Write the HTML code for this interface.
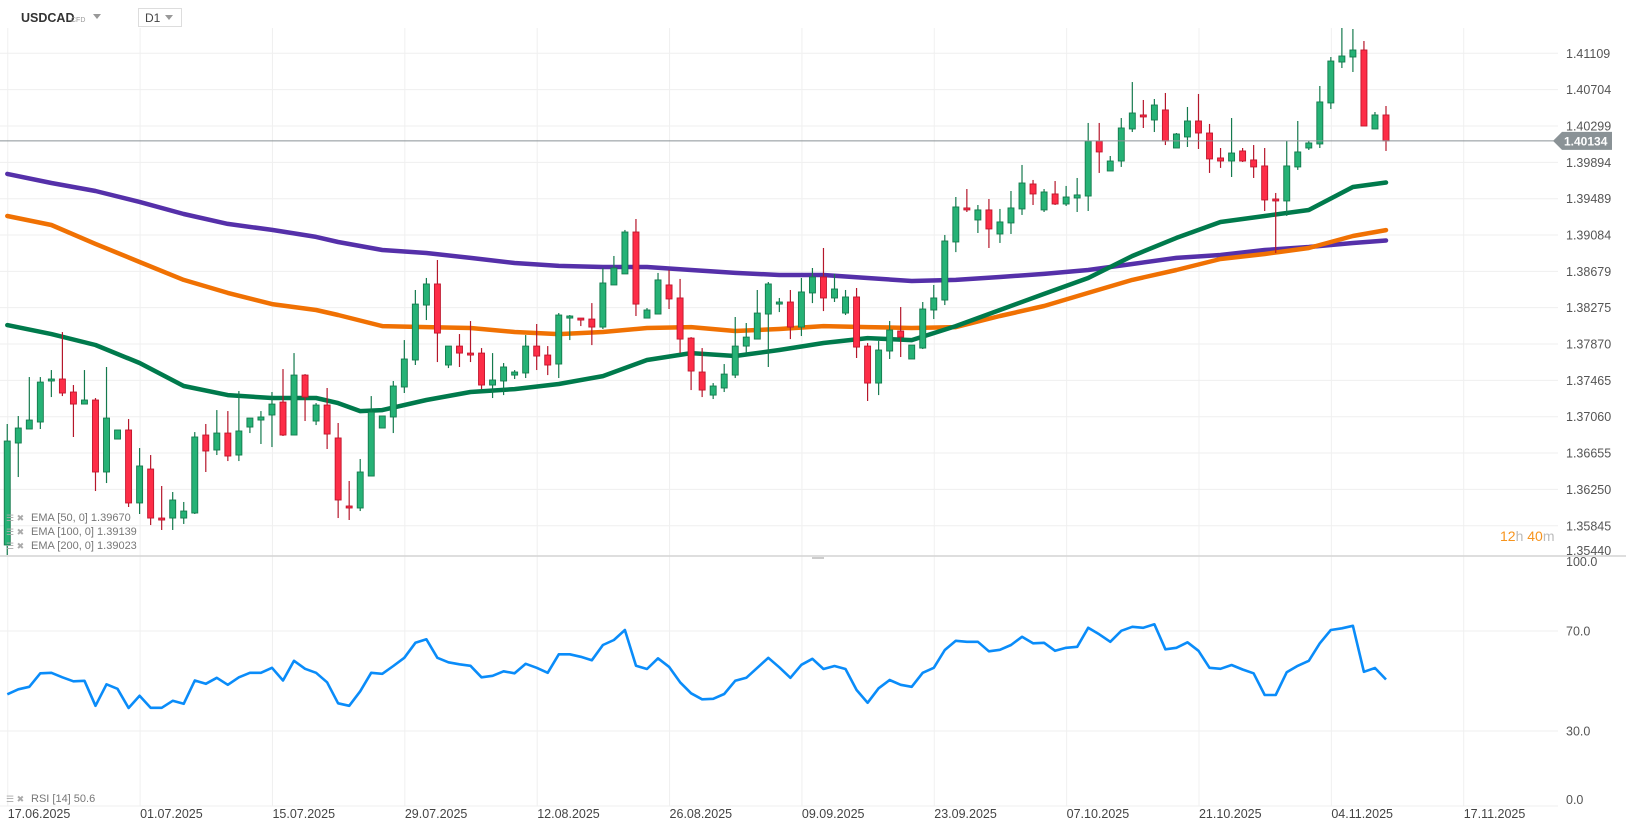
<!DOCTYPE html>
<html><head><meta charset="utf-8">
<style>
html,body{margin:0;padding:0;background:#fff;}
body{width:1626px;height:831px;overflow:hidden;font-family:"Liberation Sans",sans-serif;}
svg text{font-family:"Liberation Sans",sans-serif;}
</style></head>
<body>
<svg id="chart" width="1626" height="831" xmlns="http://www.w3.org/2000/svg">
  <defs>
    <clipPath id="pclip"><rect x="0" y="0" width="1558" height="555"/></clipPath>
    <clipPath id="rclip"><rect x="0" y="557" width="1558" height="250"/></clipPath>
  </defs>
  <g id="grid"></g>
  <g id="emas" clip-path="url(#pclip)"></g>
  <g id="candles" clip-path="url(#pclip)"></g>
  <g id="rsi" clip-path="url(#rclip)"></g>
  <g id="axes"></g>
  <!-- header -->
  <text x="21" y="22" font-size="12.5" font-weight="bold" fill="#333">USDCAD</text>
  <text x="71" y="22" font-size="7" fill="#999">CFD</text>
  <path d="M93 14 L101 14 L97 19 Z" fill="#999"/>
  <rect x="138.5" y="8.5" width="43" height="18" fill="#fff" stroke="#ddd"/>
  <text x="145" y="22" font-size="12" fill="#444">D1</text>
  <path d="M165 15 L173 15 L169 20 Z" fill="#999"/>
  <!-- legends -->
  <g font-size="11" fill="#777">
    <g><text x="6" y="521" font-size="9" fill="#aaa">☰ ✖</text><text x="31" y="521">EMA  [50,  0]  1.39670</text></g>
    <g><text x="6" y="535" font-size="9" fill="#aaa">☰ ✖</text><text x="31" y="535">EMA  [100,  0]  1.39139</text></g>
    <g><text x="6" y="549" font-size="9" fill="#aaa">☰ ✖</text><text x="31" y="549">EMA  [200,  0]  1.39023</text></g>
  </g>
  <g font-size="11" fill="#777">
    <text x="6" y="802" font-size="9" fill="#aaa">☰ ✖</text><text x="31" y="802">RSI  [14]  50.6</text>
  </g>
  <text x="1500" y="541" font-size="14" fill="#f7941d">12<tspan fill="#bbb">h</tspan> 40<tspan fill="#bbb">m</tspan></text>
</svg>
<script>
const opens=[1.35631,1.36767,1.36923,1.37001,1.37458,1.37480,1.37335,1.37201,1.37246,1.36444,1.36811,1.36912,1.36099,1.36477,1.35931,1.35931,1.35931,1.35987,1.36856,1.36689,1.36878,1.36633,1.36945,1.37023,1.37079,1.37223,1.36856,1.37524,1.37012,1.37190,1.36823,1.36065,1.36043,1.36399,1.36934,1.37057,1.37391,1.37692,1.38304,1.38539,1.37636,1.37847,1.37769,1.37769,1.37413,1.37458,1.37524,1.37547,1.37847,1.37747,1.37647,1.38159,1.38159,1.38148,1.38059,1.38528,1.38651,1.39118,1.38159,1.38204,1.38528,1.38383,1.37936,1.37558,1.37301,1.37380,1.37524,1.37847,1.37925,1.38204,1.38315,1.38338,1.38059,1.38439,1.38617,1.38383,1.38215,1.38394,1.37847,1.37435,1.37792,1.38015,1.37703,1.37825,1.38249,1.38360,1.39007,1.39386,1.39252,1.39364,1.39096,1.39219,1.39375,1.39653,1.39364,1.39542,1.39430,1.39497,1.39519,1.40132,1.39798,1.39909,1.40266,1.40422,1.40366,1.40478,1.40054,1.40177,1.40355,1.40221,1.39943,1.39909,1.40021,1.39921,1.39854,1.39486,1.39464,1.39843,1.40054,1.40099,1.40556,1.41012,1.41068,1.41146,1.40266,1.40422];
const highs=[1.36979,1.37068,1.37502,1.37502,1.37580,1.38003,1.37413,1.37580,1.37268,1.37614,1.36912,1.37034,1.36711,1.36633,1.36288,1.36221,1.36110,1.36889,1.36979,1.37134,1.37123,1.37346,1.37045,1.37123,1.37335,1.37591,1.37769,1.37535,1.37212,1.37380,1.36990,1.36344,1.36589,1.37290,1.37068,1.37458,1.37914,1.38472,1.38606,1.38806,1.37847,1.37981,1.38126,1.37825,1.37769,1.37658,1.37580,1.37970,1.38093,1.37847,1.38215,1.38193,1.38159,1.38326,1.38717,1.38851,1.39141,1.39263,1.38271,1.38662,1.38695,1.38595,1.37947,1.37825,1.37435,1.37647,1.38171,1.38104,1.38472,1.38561,1.38383,1.38472,1.38606,1.38717,1.38940,1.38651,1.38472,1.38494,1.37881,1.37903,1.38126,1.38282,1.37858,1.38338,1.38528,1.39085,1.39508,1.39597,1.39419,1.39486,1.39375,1.39575,1.39865,1.39698,1.39597,1.39686,1.39631,1.39720,1.40333,1.40333,1.39965,1.40388,1.40789,1.40589,1.40600,1.40667,1.40221,1.40511,1.40656,1.40322,1.40054,1.40388,1.40054,1.40087,1.40054,1.39553,1.40132,1.40355,1.40132,1.40745,1.41068,1.41391,1.41380,1.41246,1.40455,1.40522];
const lows=[1.35463,1.36388,1.36923,1.36923,1.37279,1.37290,1.36834,1.37201,1.36232,1.36321,1.36811,1.36054,1.35976,1.35853,1.35798,1.35798,1.35865,1.35976,1.36444,1.36633,1.36566,1.36566,1.36878,1.36756,1.36722,1.36845,1.36856,1.37012,1.36967,1.36700,1.35931,1.35909,1.36009,1.36399,1.36934,1.36878,1.37324,1.37636,1.38137,1.37669,1.37602,1.37614,1.37669,1.37368,1.37268,1.37301,1.37480,1.37491,1.37580,1.37524,1.37491,1.37914,1.38070,1.37858,1.38037,1.38528,1.38651,1.38182,1.38159,1.38204,1.38260,1.37769,1.37357,1.37279,1.37257,1.37335,1.37491,1.37769,1.37925,1.37614,1.38226,1.37925,1.37959,1.38326,1.38237,1.38338,1.38193,1.37714,1.37235,1.37301,1.37703,1.37725,1.37703,1.37814,1.38148,1.38304,1.38894,1.39341,1.39107,1.38940,1.38996,1.39096,1.39308,1.39419,1.39341,1.39419,1.39408,1.39341,1.39352,1.39776,1.39798,1.39843,1.40232,1.40277,1.40232,1.40087,1.40054,1.40065,1.40043,1.39776,1.39832,1.39731,1.39898,1.39720,1.39352,1.38884,1.39297,1.39810,1.40032,1.40054,1.40489,1.40945,1.40901,1.40299,1.40266,1.40021];
const closes=[1.36789,1.36934,1.37023,1.37446,1.37480,1.37324,1.37201,1.37246,1.36444,1.37045,1.36912,1.36099,1.36511,1.35931,1.35909,1.36132,1.36009,1.36834,1.36678,1.36878,1.36622,1.36901,1.37045,1.37057,1.37201,1.36856,1.37524,1.37279,1.37190,1.36867,1.36132,1.36043,1.36444,1.37112,1.37068,1.37402,1.37703,1.38315,1.38539,1.37992,1.37847,1.37769,1.37747,1.37413,1.37469,1.37614,1.37558,1.37847,1.37736,1.37636,1.38193,1.38182,1.38137,1.38059,1.38550,1.38717,1.39118,1.38315,1.38249,1.38584,1.38372,1.37925,1.37569,1.37357,1.37402,1.37535,1.37847,1.37947,1.38215,1.38539,1.38338,1.38059,1.38450,1.38617,1.38383,1.38483,1.38394,1.37836,1.37435,1.37803,1.38026,1.37947,1.37858,1.38260,1.38383,1.39018,1.39397,1.39364,1.39364,1.39152,1.39230,1.39386,1.39664,1.39542,1.39564,1.39430,1.39508,1.39531,1.40132,1.40010,1.39909,1.40277,1.40444,1.40400,1.40533,1.40132,1.40210,1.40355,1.40221,1.39932,1.39909,1.39998,1.39909,1.39843,1.39475,1.39464,1.39854,1.40010,1.40110,1.40567,1.41023,1.41079,1.41146,1.40299,1.40422,1.40134];
const emaIdx=[0,4,8,12,16,20,24,28,30,34,38,42,46,50,54,58,62,66,70,74,78,82,86,90,94,98,102,106,110,114,118,122,125];
const ema200=[1.39765,1.39664,1.39575,1.39453,1.39319,1.39208,1.39141,1.39063,1.39007,1.38918,1.38884,1.38829,1.38773,1.38740,1.38728,1.38728,1.38695,1.38662,1.38639,1.38639,1.38606,1.38572,1.38584,1.38617,1.38651,1.38695,1.38762,1.38829,1.38862,1.38918,1.38951,1.38996,1.39023];
const ema100=[1.39296,1.39196,1.38985,1.38784,1.38584,1.38439,1.38315,1.38249,1.38193,1.38070,1.38059,1.38048,1.38004,1.37981,1.38004,1.38048,1.38059,1.38015,1.38037,1.38070,1.38059,1.38048,1.38059,1.38182,1.38293,1.38439,1.38584,1.38695,1.38817,1.38873,1.38940,1.39074,1.39139];
const ema50Idx=[0,4,8,12,16,20,24,28,30,32,34,38,42,46,50,54,58,62,66,70,74,78,82,86,90,94,98,102,106,110,114,118,122,125];
const ema50=[1.38081,1.37981,1.37859,1.37658,1.37402,1.37301,1.37268,1.37268,1.37212,1.37123,1.37134,1.37246,1.37335,1.37368,1.37424,1.37513,1.37692,1.37769,1.37736,1.37803,1.37881,1.37936,1.37914,1.38070,1.38249,1.38428,1.38606,1.38851,1.39052,1.39230,1.39296,1.39363,1.39619,1.39670];
const rsiVals=[44.7,46.7,47.7,53.1,53.3,51.5,49.9,50.1,40.1,48.7,46.9,39.2,44.1,39.3,39.3,42.1,40.9,50.2,48.9,51.3,48.5,51.5,53.3,53.3,55.3,50.2,58.1,54.9,53.3,49.5,41.1,40.1,45.9,53.3,52.9,56.0,59.3,65.3,66.7,59.3,57.5,56.7,56.1,51.5,52.1,53.9,53.1,56.9,55.3,53.3,60.7,60.7,59.7,58.3,64.4,66.4,70.4,56.1,54.8,59.1,55.7,49.5,45.1,42.7,42.9,44.8,50.1,51.3,55.3,59.3,55.5,51.3,56.5,58.9,54.8,56.0,54.8,46.4,41.3,47.1,50.4,48.5,47.7,53.3,55.3,62.4,66.1,65.7,65.7,61.9,62.5,64.4,67.7,65.1,65.3,62.1,63.3,63.7,71.3,68.7,65.7,70.1,71.7,71.3,72.7,62.7,63.3,65.5,62.1,55.3,54.9,56.4,54.6,53.1,44.4,44.4,53.5,56.1,58.1,65.1,70.4,71.1,72.1,53.7,55.2,50.6];
const priceTicks=[1.41109,1.40704,1.40299,1.39894,1.39489,1.39084,1.38679,1.38275,1.37870,1.37465,1.37060,1.36655,1.36250,1.35845,1.35440];
const rsiTicks=[100,70,30,0];
const dateLabels=["17.06.2025","01.07.2025","15.07.2025","29.07.2025","12.08.2025","26.08.2025","09.09.2025","23.09.2025","07.10.2025","21.10.2025","04.11.2025","17.11.2025"];
const dateIdx=[0,12,24,36,48,60,72,84,96,108,120,132];
const lastPrice=1.40134;

const NS="http://www.w3.org/2000/svg";
function xOf(i){return 7.25+i*11.03;}
function yP(p){return (1.41703-p)/0.00011142;}
function yR(v){return 631+(70-v)*2.5;}
function mk(tag,attrs,parent){const e=document.createElementNS(NS,tag);for(const k in attrs)e.setAttribute(k,attrs[k]);parent.appendChild(e);return e;}

const grid=document.getElementById('grid');
const axes=document.getElementById('axes');
priceTicks.forEach((t,k)=>{
  const y=yP(t);
  if(y<553){const l=mk('line',{x1:0,x2:1558,y1:y,y2:y,stroke:'#efefef','stroke-width':1},grid);
  
  }
  const ty=Math.min(y+4.5,555);
  const tx=mk('text',{x:1566,y:ty,'font-size':12.5,fill:'#555'},axes);
  tx.textContent=t.toFixed(5);
  
  
});
rsiTicks.forEach(v=>{
  const y=yR(v);
  if(v!==100){const l=mk('line',{x1:0,x2:1558,y1:y,y2:y,stroke:'#efefef'},grid);
  
  }
  const tx=mk('text',{x:1566,y:v===100?566:(v===0?804:y+4.5),'font-size':12.5,fill:'#555'},axes);
  tx.textContent=v.toFixed(1);
  
  
});
dateIdx.forEach((di,k)=>{
  const x=xOf(di)+0.5;
  const l=mk('line',{x1:x,x2:x,y1:28,y2:806,stroke:'#f0f0f0'},grid);
  
  
  const tx=mk('text',{x:x,y:818,'font-size':12.5,fill:'#444'},axes);
  tx.textContent=dateLabels[k];
  
  
});
const sep=mk('line',{x1:0,x2:1626,y1:556,y2:556,stroke:'#d4d4d4','stroke-width':1.5},axes);


mk('line',{x1:812,x2:824,y1:558,y2:558,stroke:'#999','stroke-width':1},axes);
const emas=document.getElementById('emas');
function emaPath(idx,vals,color,name){
  let d='';
  idx.forEach((i,k)=>{d+=(k?'L':'M')+xOf(i).toFixed(1)+' '+yP(vals[k]).toFixed(1)+' ';});
  const p=mk('path',{d:d,fill:'none',stroke:color,'stroke-width':4.5,'stroke-linejoin':'round','stroke-linecap':'round'},emas);
  
  
}
emaPath(emaIdx,ema200,'#5530a9','ema-200-line');
emaPath(emaIdx,ema100,'#f07103','ema-100-line');
emaPath(ema50Idx,ema50,'#007a4c','ema-50-line');
const cg=document.getElementById('candles');
closes.forEach((c,i)=>{
  const o=opens[i],h=highs[i],l=lows[i];
  const up=c>=o;
  const x=xOf(i);
  const g=mk('g',{},cg);
  
  
  const wick=up?'#157a4e':'#b5172b';
  mk('line',{x1:x,x2:x,y1:yP(h),y2:yP(l),stroke:wick,'stroke-width':1.2},g);
  const top=yP(Math.max(o,c)),bot=yP(Math.min(o,c));
  mk('rect',{x:x-3,y:top,width:6,height:Math.max(bot-top,1.5),fill:up?'#26b276':'#fd2d47',stroke:up?'#137a4c':'#c0152c','stroke-width':0.9},g);
});
const ly=yP(lastPrice);
const pl=mk('line',{x1:0,x2:1554,y1:ly,y2:ly,stroke:'#8a9296','stroke-width':1},axes);


const badge=mk('path',{d:`M1553 ${ly} L1562 ${ly-9} L1612 ${ly-9} L1612 ${ly+9} L1562 ${ly+9} Z`,fill:'#8a9296'},axes);


const bt=mk('text',{x:1564,y:ly+4.5,'font-size':12,'font-weight':'bold',fill:'#fff'},axes);
bt.textContent=lastPrice.toFixed(5);


const rg=document.getElementById('rsi');
let rd='';
rsiVals.forEach((v,i)=>{rd+=(i?'L':'M')+xOf(i).toFixed(1)+' '+yR(v).toFixed(1)+' ';});
const rp=mk('path',{d:rd,fill:'none',stroke:'#0a8cf9','stroke-width':2.6,'stroke-linejoin':'round'},rg);


</script>
</body></html>
